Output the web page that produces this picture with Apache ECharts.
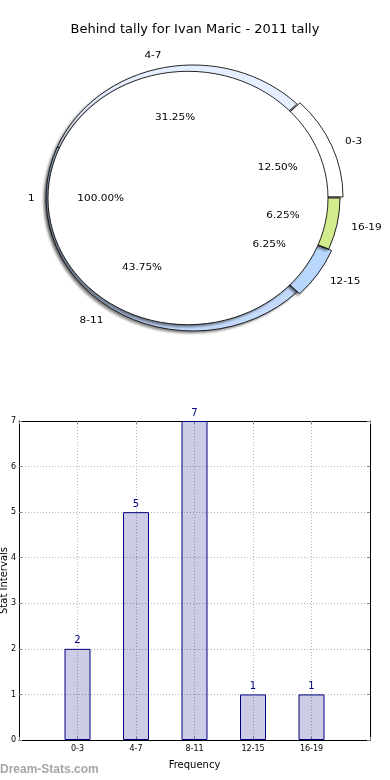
<!DOCTYPE html>
<html><head><meta charset="utf-8">
<script src="https://cdn.jsdelivr.net/npm/echarts@6/dist/echarts.min.js"></script>
<style>
html,body{margin:0;padding:0;background:#fff;}
#main{position:absolute;left:0;top:0;width:390px;height:780px;}
#pie{position:absolute;left:0;top:0;width:353px;height:380px;transform:scaleX(1.105);transform-origin:0 0;}
</style></head><body>
<div id="main"></div><div id="pie"></div>
<script>
// ---- data ----
const chartTitle = 'Behind tally for Ivan Maric - 2011 tally';
const categories = ['0-3', '4-7', '8-11', '12-15', '16-19'];
const counts = [2, 5, 7, 1, 1];
const explodedSlices = ['0-3', '12-15'];
const innerNames = ['1'];
const innerValues = [16];
const yTickValues = [0, 1, 2, 3, 4, 5, 6, 7];
const ringColors = ['#ffffff', '#e6efff', '#c4dafc', '#b9d7fd', '#d2eb8c'];

const FONT = 'DejaVu Sans';
const SX = 1.105;                 // horizontal stretch of the pie (ellipse)
const RING_CX = 193 / SX, CY = 198;
const INNER_CX = 188 / SX;

// ---- pie chart (stretched container) ----
const pie = echarts.init(document.getElementById('pie'), null, {renderer: 'svg'});
const ringData = categories.map((c, i) => ({
  name: c, value: counts[i], selected: explodedSlices.includes(c),
  itemStyle: {color: ringColors[i]}
}));
const innerData = innerNames.map((n, i) => ({name: n, value: innerValues[i]}));
const pctFmt = p => p.percent.toFixed(2) + '%';
const shadow = {shadowColor: 'rgba(0,0,0,0.45)', shadowOffsetX: -2, shadowOffsetY: 2, shadowBlur: 2};
const common = {
  type: 'pie', startAngle: 0, clockwise: false,
  avoidLabelOverlap: false, silent: true, animation: false,
  emphasis: {disabled: true}
};
pie.setOption({
  animation: false,
  series: [
    Object.assign({}, common, {
      name: 'ring', center: [RING_CX, CY], radius: [112, 133], data: ringData, z: 2,
      selectedMode: 'multiple', selectedOffset: 3,
      itemStyle: Object.assign({borderColor: '#000', borderWidth: 0.8}, shadow),
      label: {show: true, position: 'outside', formatter: '{b}', fontFamily: FONT, fontSize: 9.5, color: '#000', distanceToLabelLine: 0},
      labelLine: {show: false, length: 13, length2: 0}
    }),
    Object.assign({}, common, {
      name: 'inner', center: [INNER_CX, CY], radius: [0, 126.7], data: innerData, z: 3,
      itemStyle: Object.assign({color: '#ffffff', borderColor: '#000', borderWidth: 0.8}, shadow),
      label: {show: true, position: 'outside', formatter: '{b}', fontFamily: FONT, fontSize: 9.5, color: '#000', distanceToLabelLine: 0},
      labelLine: {show: false, length: 12, length2: 0}
    }),
    Object.assign({}, common, {
      name: 'ringPct', center: [RING_CX, CY], radius: [66, 94], z: 4,
      data: categories.map((c, i) => ({name: c, value: counts[i]})),
      itemStyle: {color: 'rgba(0,0,0,0)', borderWidth: 0},
      label: {show: true, position: 'inside', formatter: pctFmt, fontFamily: FONT, fontSize: 9.5, color: '#000'},
      labelLine: {show: false}
    }),
    Object.assign({}, common, {
      name: 'innerPct', center: [INNER_CX, CY], radius: [63, 89], z: 4,
      data: innerNames.map((n, i) => ({name: n, value: innerValues[i]})),
      itemStyle: {color: 'rgba(0,0,0,0)', borderWidth: 0},
      label: {show: true, position: 'inside', formatter: pctFmt, fontFamily: FONT, fontSize: 9.5, color: '#000'},
      labelLine: {show: false}
    })
  ]
});

// ---- bar chart + title ----
const main = echarts.init(document.getElementById('main'));
const barData = categories.map((c, i) => [i + 1, counts[i]]);
const dotted = {show: true, lineStyle: {color: '#b5b5b5', type: [1, 2], width: 1}};
const tick = {show: true, inside: true, length: 3, lineStyle: {color: '#888'}};
const frame = {show: true, onZero: false, lineStyle: {color: '#000', width: 1}};
main.setOption({
  animation: false,
  textStyle: {fontFamily: FONT},
  title: {text: chartTitle, left: 'center', top: 18,
    textStyle: {fontFamily: FONT, fontSize: 13, fontWeight: 'normal', color: '#000'}},
  grid: {left: 19, right: 20, top: 421, bottom: 40, containLabel: false, outerBoundsMode: 'none'},
  xAxis: [
    {type: 'value', min: 0, max: categories.length + 1, interval: 1, position: 'bottom',
     axisLine: frame, axisTick: tick, splitLine: dotted,
     axisLabel: {formatter: v => categories[v - 1] || '', fontFamily: FONT, fontSize: 8, color: '#000', margin: 5},
     name: 'Frequency', nameLocation: 'middle', nameGap: 20, nameMoveOverlap: false,
     nameTextStyle: {fontFamily: FONT, fontSize: 10, color: '#000'}},
    {type: 'value', min: 0, max: categories.length + 1, interval: 1, position: 'top',
     axisLine: frame, axisTick: tick, splitLine: {show: false}, axisLabel: {show: false}}
  ],
  yAxis: [
    {type: 'value', min: yTickValues[0], max: yTickValues[yTickValues.length - 1], interval: 1, position: 'left',
     axisLine: frame, axisTick: tick, splitLine: dotted,
     axisLabel: {fontFamily: FONT, fontSize: 8, color: '#000', margin: 3},
     name: 'Stat Intervals', nameLocation: 'middle', nameGap: 10, nameRotate: 90, nameMoveOverlap: false,
     nameTextStyle: {fontFamily: FONT, fontSize: 10, color: '#000'}},
    {type: 'value', min: yTickValues[0], max: yTickValues[yTickValues.length - 1], interval: 1, position: 'right',
     axisLine: frame, axisTick: tick, splitLine: {show: false}, axisLabel: {show: false}}
  ],
  series: [{
    type: 'bar', data: barData, barWidth: 26, xAxisIndex: 0, yAxisIndex: 0,
    itemStyle: {color: 'rgba(0,0,128,0.2)', borderColor: '#000080', borderWidth: 1},
    label: {show: true, position: 'top', distance: 3, color: '#00008b', fontFamily: FONT, fontSize: 10},
    silent: true
  }],
  graphic: [{type: 'text', left: 0, top: 764,
    style: {text: 'Dream-Stats.com', fill: '#a6a6a6', font: 'bold 12px "Liberation Sans"'}}]
});
</script>
</body></html>
